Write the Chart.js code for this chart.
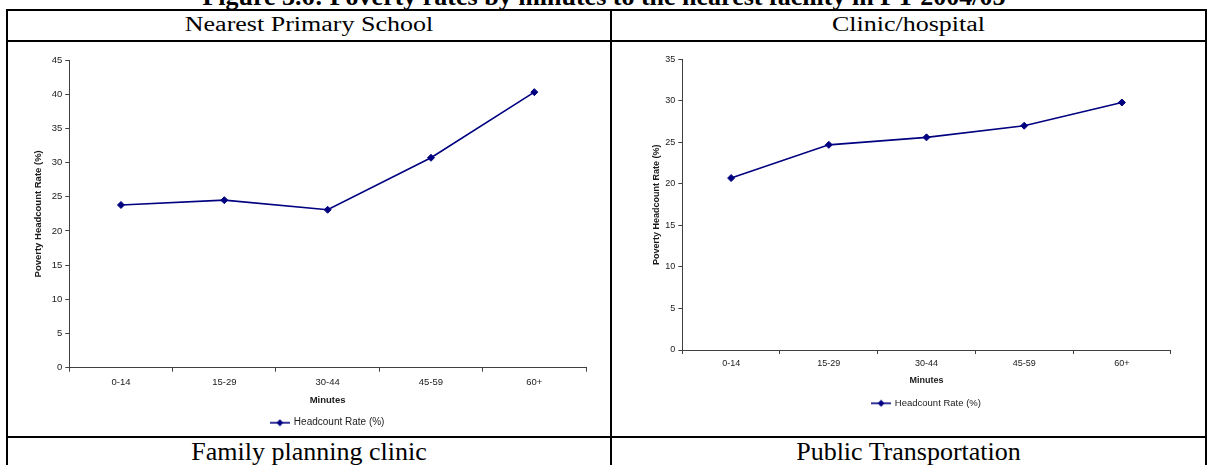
<!DOCTYPE html>
<html>
<head>
<meta charset="utf-8">
<title>Poverty rates by minutes to the nearest facility</title>
<script src="https://cdn.jsdelivr.net/npm/chart.js@4.4.1/dist/chart.umd.min.js"></script>
<style>
  html, body { margin: 0; padding: 0; background: #fff; overflow: hidden; }
  #page { position: relative; width: 1208px; height: 465px; overflow: hidden; }
  .rule { position: absolute; background: #000; }
  .serif { position: absolute; font-family: "Liberation Serif", "Times New Roman", serif; color: #000; white-space: nowrap; text-align: center; }
  .fig-title { left: 0; width: 1208px; top: -16.5px; font-size: 26px; line-height: 26px; font-weight: bold; }
  .cell-title { font-size: 26px; line-height: 26px; }
  .cell-title span { display: inline-block; }
  .squash span { transform: scaleY(0.84); transform-origin: 50% 21.8px; }
  canvas { position: absolute; }
</style>
</head>
<body>
<div id="page">
  <div class="serif fig-title">Figure 3.6: Poverty rates by minutes to the nearest facility in FY 2004/05</div>

  <div class="rule" style="left:6px; top:9px; width:1201px; height:2px"></div>
  <div class="rule" style="left:6px; top:40px; width:1201px; height:2px"></div>
  <div class="rule" style="left:6px; top:436px; width:1201px; height:2px"></div>
  <div class="rule" style="left:6px; top:9px; width:2px; height:456px"></div>
  <div class="rule" style="left:610px; top:9px; width:2px; height:456px"></div>
  <div class="rule" style="left:1205px; top:9px; width:2px; height:456px"></div>

  <div class="serif cell-title squash" style="left:8px; width:602px; top:10px"><span>Nearest Primary School</span></div>
  <div class="serif cell-title squash" style="left:612px; width:593px; top:10px"><span>Clinic/hospital</span></div>
  <div class="serif cell-title" style="left:8px; width:602px; top:439px"><span>Family planning clinic</span></div>
  <div class="serif cell-title" style="left:612px; width:593px; top:439px"><span>Public Transportation</span></div>

  <canvas id="schoolChart" width="602" height="396" style="left:8px; top:42px"></canvas>
  <canvas id="clinicChart" width="593" height="394" style="left:612px; top:42px"></canvas>
</div>

<script>
const minuteBands = ["0-14", "15-29", "30-44", "45-59", "60+"];
const schoolRates = [23.8, 24.5, 23.1, 30.7, 40.3];
const clinicRates = [20.7, 24.7, 25.6, 27.0, 29.8];
const schoolAxisMax = 45;
const clinicAxisMax = 35;
const axisStep = 5;

const seriesName = "Headcount Rate (%)";
const xTitle = "Minutes";
const yTitle = "Poverty Headcount Rate (%)";

const navy = "#000080";
const axisColor = "#404040";
const textColor = "#1a1a1a";
const sans = "'Liberation Sans', Arial, sans-serif";

// little line + diamond swatch, the way Excel draws a line series in the legend
function legendSwatch() {
  const c = document.createElement("canvas");
  c.width = 20;
  c.height = 8;
  const ctx = c.getContext("2d");
  ctx.strokeStyle = navy;
  ctx.lineWidth = 1.6;
  ctx.beginPath();
  ctx.moveTo(0, 4);
  ctx.lineTo(20, 4);
  ctx.stroke();
  ctx.fillStyle = navy;
  ctx.beginPath();
  ctx.moveTo(10, 0.5);
  ctx.lineTo(13.5, 4);
  ctx.lineTo(10, 7.5);
  ctx.lineTo(6.5, 4);
  ctx.closePath();
  ctx.fill();
  return c;
}

function buildChart(canvasId, values, yMax, fit) {
  const tickFont = { family: sans, size: fit.tickSize };
  const titleFont = { family: sans, size: fit.titleSize, weight: "bold" };

  return new Chart(document.getElementById(canvasId), {
    type: "line",
    data: {
      labels: minuteBands,
      datasets: [{
        label: seriesName,
        data: values,
        borderColor: navy,
        backgroundColor: navy,
        borderWidth: 1.6,
        pointStyle: "rectRot",
        pointRadius: 3.5,
        pointBorderWidth: 1,
        pointHoverRadius: 3.5,
        tension: 0,
        fill: false,
      }],
    },
    options: {
      responsive: false,
      animation: false,
      layout: { padding: { left: fit.padLeft, right: fit.padRight, top: fit.padTop, bottom: fit.padBottom } },
      plugins: {
        legend: {
          position: "bottom",
          fullSize: false,
          labels: {
            usePointStyle: true,
            pointStyle: legendSwatch(),
            pointStyleWidth: 18,
            padding: 6,
            color: textColor,
            font: { family: sans, size: fit.legendSize },
          },
        },
        tooltip: { enabled: false },
      },
      scales: {
        x: {
          type: "category",
          offset: true,
          grid: { offset: true, drawOnChartArea: false, drawTicks: true, tickLength: 4, color: axisColor },
          border: { color: axisColor, width: 1 },
          ticks: { color: textColor, padding: fit.xTickPad, font: tickFont, maxRotation: 0, autoSkip: false },
          title: { display: true, text: xTitle, color: textColor, font: titleFont, padding: { top: 0, bottom: fit.xTitlePad } },
          afterFit: (scale) => { scale.height = fit.xHeight; },
        },
        y: {
          min: 0,
          max: yMax,
          grid: { drawOnChartArea: false, drawTicks: true, tickLength: 4, color: axisColor },
          border: { color: axisColor, width: 1 },
          ticks: { stepSize: axisStep, color: textColor, padding: 3, font: tickFont },
          title: { display: true, text: yTitle, color: textColor, font: titleFont, padding: { top: 0, bottom: 0 } },
          afterFit: (scale) => { scale.width = fit.yWidth; },
        },
      },
    },
  });
}

buildChart("schoolChart", schoolRates, schoolAxisMax, {
  tickSize: 9.5, titleSize: 9.5, legendSize: 10,
  padLeft: 24.3, padRight: 24, padTop: 18, padBottom: 0.3,
  yWidth: 37, xHeight: 44, xTickPad: 5.3, xTitlePad: 6,
});

buildChart("clinicChart", clinicRates, clinicAxisMax, {
  tickSize: 9, titleSize: 9, legendSize: 9.5,
  padLeft: 39.3, padRight: 34.3, padTop: 17.3, padBottom: 17.95,
  yWidth: 31, xHeight: 42.55, xTickPad: 4.6, xTitlePad: 6.45,
});
</script>
</body>
</html>
